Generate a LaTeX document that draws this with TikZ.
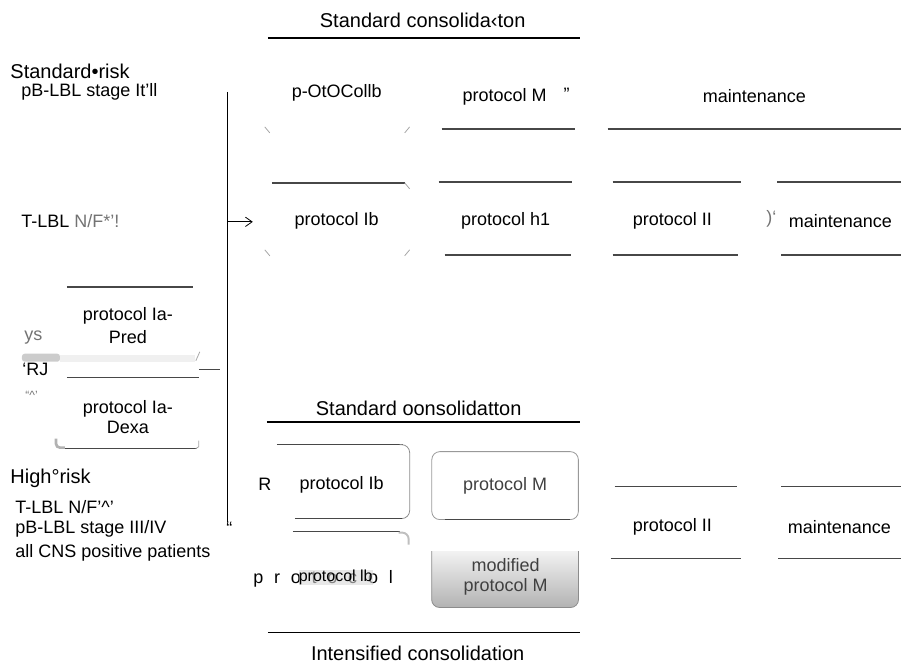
\documentclass[tikz,border=0pt]{standalone}
\usepackage{fontspec}
\setmainfont{Liberation Sans}
\usetikzlibrary{arrows.meta}
\tikzset{every picture/.style={line width=0.75pt}}
\tikzset{
	lbl/.style={inner sep=0pt, font=\fontsize{13.5}{15}\selectfont},
	head/.style={inner sep=0pt, font=\fontsize{15}{17}\selectfont},
	dim/.style={text=black!55},
	bar/.style={draw=black!72, line width=1.1pt},
	rule/.style={draw=black, line width=1.3pt},
	tick/.style={draw=black!35, line width=0.6pt}}
\begin{document}
\begin{tikzpicture}[x=0.75pt,y=0.75pt,yscale=-1,xscale=1]
	\path (0,0) rectangle (902,668); %set diagram frame 902 x 668

	% Text Node
	\node[head] (stdtitle) at (423,20) {Standard consolida‹ton};
	%Straight Lines
	\draw[rule] (268,38) -- (580,38);

	% Text Node
	\node[head, anchor=west] (stdrisk) at (10,71) {Standard•risk};
	\node[lbl, anchor=west] (stdpb) at (21,92) {pB-LBL stage It'll};
	\node[lbl, anchor=west] (stdtlbl) at (21,221) {T-LBL \textcolor{black!55}{N/F*'!}};

	%Straight Lines (bracket and arrow)
	\coordinate (bracetop) at (228,92);
	\coordinate (bracebot) at (228,522);
	\coordinate (bracein) at (228,222);
	\coordinate (arrowend) at (253,222);
	\draw[line width=0.6pt] (bracetop) -- (bracebot);
	\draw[line width=0.6pt, -{Straight Barb[length=5pt,width=7pt]}] (bracein) -- (arrowend);
	\node[lbl, anchor=west] (bracequote) at (226,529) {“};

	% Text Node (standard risk row)
	\node[lbl] (protIbtop) at (337,93) {p-OtOCollb};
	\node[lbl] (protMtop) at (505,97) {protocol M};
	\node[lbl] (protMquote) at (567,94) {”};
	\node[lbl] (maintop) at (755,96) {maintenance};
	\node[lbl] (protIbstd) at (337,221) {protocol Ib};
	\node[lbl] (protMstd) at (506,221) {protocol h1};
	\node[lbl] (protIIstd) at (673,221) {protocol II};
	\node[lbl, dim] (parenstd) at (772,219) {)‘};
	\node[lbl] (mainstd) at (841,221) {maintenance};

	%Straight Lines (box edges)
	\draw[bar] (442,129) -- (575,129);
	\draw[bar] (608,129) -- (902,129);
	\draw[bar] (272,183) -- (405,183);
	\draw[bar] (439,182) -- (572,182);
	\draw[bar] (613,182) -- (742,182);
	\draw[bar] (778,182) -- (902,182);
	\draw[bar] (445,255) -- (571,255);
	\draw[bar] (613,255) -- (739,255);
	\draw[bar] (782,255) -- (902,255);
	%Shape: corner ticks
	\foreach \cy in {130,253} {
		\draw[tick] (265,\cy-3) -- (270,\cy+3);
		\draw[tick] (410,\cy-3) -- (405,\cy+3);}
	\draw[tick] (405,183) -- (410,189);

	% Text Node (induction)
	\node[lbl, align=center, font=\fontsize{13.5}{17}\selectfont] (protIaPred) at (128,326) {protocol Ia-\\Pred};
	\node[lbl, align=center, font=\fontsize{13.5}{15}\selectfont] (protIaDexa) at (128,417) {protocol Ia-\\Dexa};
	\node[lbl, dim, anchor=west] (ysmark) at (24,338) {ys};
	\node[lbl, anchor=west] (rjmark) at (22,370) {‘RJ};
	\node[lbl, dim, anchor=west, font=\fontsize{9}{10}\selectfont] (hatmark) at (25,396) {“\textasciicircum’};
	%Straight Lines
	\draw[bar] (67,287) -- (193,287);
	\fill[black!20, rounded corners=2pt] (22,354) rectangle (60,362);
	\fill[black!6] (60,355) rectangle (195,362);
	\draw[tick] (196,361) -- (200,352);
	\draw[bar] (67,378) -- (199,378);
	\coordinate (iaout) at (199,370);
	\coordinate (iain) at (220,370);
	\draw[bar] (iaout) -- (iain);
	\draw[black!30, line width=2pt, rounded corners=3pt] (56,439) -- (56,448) -- (65,448);
	\draw[bar] (65,449) -- (197,449);
	\draw[tick] (196,449) -- (199,447) -- (199,441);

	% Text Node (high risk)
	\node[head, anchor=west] (highrisk) at (10,479) {High°risk};
	\node[lbl, anchor=west] (hightlbl) at (15,507) {T-LBL N/F'\textasciicircum'};
	\node[lbl, anchor=west] (highpb) at (15,529) {pB-LBL stage III/IV};
	\node[lbl, anchor=west] (highcns) at (15,553) {all CNS positive patients};

	% Text Node
	\node[head] (stdtitle2) at (419,409) {Standard oonsolidatton};
	%Straight Lines
	\draw[rule] (267,422) -- (580,422);

	%Shape: high risk protocol Ib
	\draw[bar] (277,445) -- (403,445);
	\draw[black!45, line width=0.6pt, rounded corners=6pt] (400,445) -- (410,445) -- (410,519) -- (400,519);
	\draw[bar] (295,519) -- (402,519);
	\node[lbl] (rmark) at (265,485) {R};
	\node[lbl] (protIbhigh) at (342,485) {protocol Ib};
	\draw[bar] (293,532) -- (400,532);
	\draw[black!25, line width=1.5pt, rounded corners=5pt] (399,533) -- (409,533) -- (409,545);
	\node[lbl, anchor=west] (protspaced) at (253,579) {p\hspace{0.6em}r\hspace{0.6em}o\hspace{0.6em}t\hspace{0.6em}o\hspace{0.6em}c\hspace{0.6em}o\hspace{0.6em}l};
	\node[lbl, fill=black!15, fill opacity=0.6, text opacity=1, font=\fontsize{12}{13}\selectfont] (protIbover) at (336,578) {protocol lb};

	%Shape: Rounded Rect protocol M
	\node[lbl, draw=black!40, line width=0.6pt, rounded corners=6pt, minimum width=110pt, minimum height=51pt, text=black!75] (protMhigh) at (505.5,486) {protocol M};
	\draw[bar] (445,520) -- (570,520);
	%Shape: Rounded Rect modified protocol M
	\begin{scope}
		\clip (430,552) rectangle (581,612);
		\shade[top color=white, bottom color=black!30, rounded corners=6pt] (432,540) rectangle (579,608);
		\draw[black!45, line width=0.6pt, rounded corners=6pt] (432,540) rectangle (579,608);
	\end{scope}
	\node[lbl, align=center, text=black!75, font=\fontsize{13.5}{15}\selectfont] (protMmod) at (506,577) {modified\\protocol M};

	% Text Node (high risk right)
	\draw[bar] (615,487) -- (738,487);
	\draw[bar] (782,487) -- (902,487);
	\node[lbl] (protIIhigh) at (673,527) {protocol II};
	\node[lbl] (mainhigh) at (840,527) {maintenance};
	\draw[bar] (611,559) -- (742,559);
	\draw[bar] (779,559) -- (902,559);

	%Straight Lines
	\draw[rule] (268,633) -- (580,633);
	% Text Node
	\node[head] (inttitle) at (418,654) {Intensified consolidation};

\end{tikzpicture}
\end{document}
